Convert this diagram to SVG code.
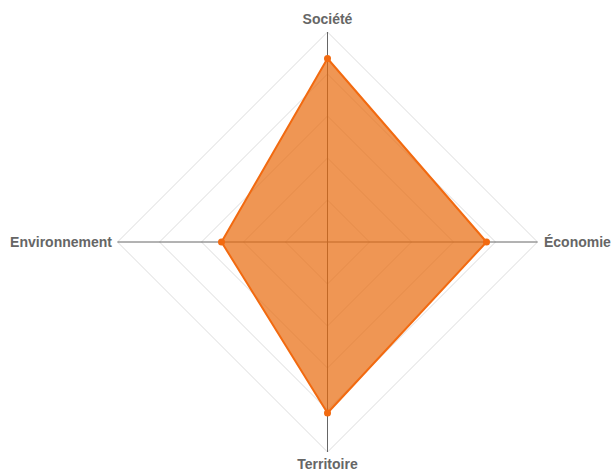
<svg xmlns="http://www.w3.org/2000/svg" width="611" height="472" viewBox="0 0 611 472">
<style>
.grid{fill:none;stroke:#dcdcdc;stroke-width:1}
.axis{stroke:#666;stroke-width:1}
.lbl{font-family:"Liberation Sans",Arial,sans-serif;font-size:14px;font-weight:bold;fill:#666}
.area{fill:#e86a0c;fill-opacity:0.7;stroke:#f26a10;stroke-width:2;stroke-linejoin:round}
.pt{fill:#f26a10}
</style>
<rect width="611" height="472" fill="#fff"/>
<g id="grid">
<polygon class="grid" points="327.5,200 369.5,242 327.5,284 285.5,242"/>
<polygon class="grid" points="327.5,158 411.5,242 327.5,326 243.5,242"/>
<polygon class="grid" points="327.5,116 453.5,242 327.5,368 201.5,242"/>
<polygon class="grid" points="327.5,74 495.5,242 327.5,410 159.5,242"/>
<polygon class="grid" points="327.5,32 537.5,242 327.5,452 117.5,242"/>
</g>
<g id="connectors">
<line class="axis" x1="327.5" y1="242" x2="327.5" y2="32"/>
<line class="axis" x1="327.5" y1="242" x2="537.5" y2="242"/>
<line class="axis" x1="327.5" y1="242" x2="327.5" y2="452"/>
<line class="axis" x1="327.5" y1="242" x2="117.5" y2="242"/>
</g>
<g id="series">
<polygon class="area" points="327.5,58.5 486.5,242 327.5,413 221.5,242"/>
<circle class="pt" cx="327.5" cy="58.5" r="3.5"/>
<circle class="pt" cx="486.5" cy="242" r="3.5"/>
<circle class="pt" cx="327.5" cy="413" r="3.5"/>
<circle class="pt" cx="221.5" cy="242" r="3.5"/>
</g>
<g id="societe"><text class="lbl" x="327.5" y="23.5" text-anchor="middle">Société</text></g>
<g id="economie"><text class="lbl" x="544" y="247" text-anchor="start">Économie</text></g>
<g id="territoire"><text class="lbl" x="327.5" y="469" text-anchor="middle">Territoire</text></g>
<g id="environnement"><text class="lbl" x="112" y="247" text-anchor="end">Environnement</text></g>
</svg>
